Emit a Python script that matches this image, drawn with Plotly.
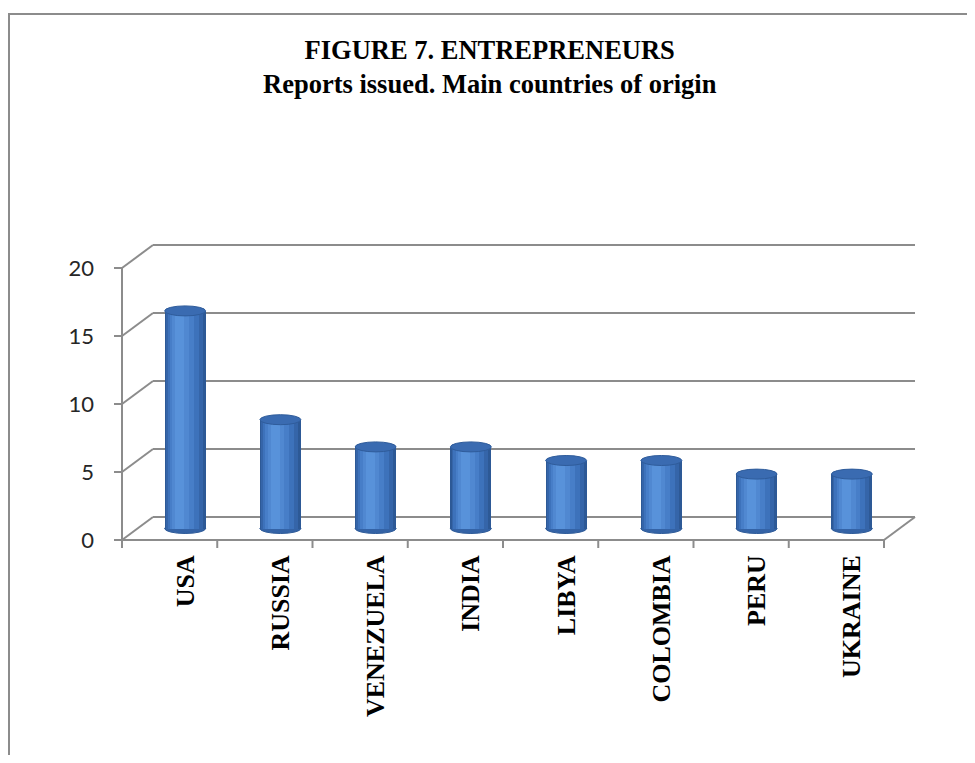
import plotly.graph_objects as go

# ---------------- data ----------------
countries = ["USA", "RUSSIA", "VENEZUELA", "INDIA", "LIBYA", "COLOMBIA", "PERU", "UKRAINE"]
reports = [16, 8, 6, 6, 5, 5, 4, 4]
y_ticks = [0, 5, 10, 15, 20]
title_lines = ["FIGURE 7. ENTREPRENEURS", "Reports issued. Main countries of origin"]

# ---------------- geometry (pixels of the browser window) ----------------
BODY = 8                      # default page margin around the figure
WIN_W, WIN_H = 975, 763
W, H = WIN_W - 2 * BODY, WIN_H - 2 * BODY

FRONT_LEFT, FRONT_RIGHT = 122 - BODY, 884 - BODY
FRONT_BOTTOM, FRONT_TOP = 540 - BODY, 268 - BODY
DEPTH_X, DEPTH_Y = 31, 23
PAD_L, PAD_B, PAD_T, PAD_R = 10, 9, 3, 3
TICK_PX = 8
ELLIPSE_PX = 10

n = len(countries)
ymax = y_ticks[-1]
UX = (FRONT_RIGHT - FRONT_LEFT) / n
UY = (FRONT_BOTTOM - FRONT_TOP) / ymax
DX = DEPTH_X / UX
DY = DEPTH_Y / UY

x_lo = -0.5 - PAD_L / UX
x_hi = n - 0.5 + DX + PAD_R / UX
y_lo = -PAD_B / UY
y_hi = ymax + DY + PAD_T / UY

ml = FRONT_LEFT - PAD_L
mr = W - (FRONT_RIGHT + DEPTH_X + PAD_R)
mt = FRONT_TOP - DEPTH_Y - PAD_T
mb = H - (FRONT_BOTTOM + PAD_B)
pw = W - ml - mr
ph = H - mt - mb


def px_x(px):
    return (px - ml) / pw


def px_y(py):
    return (mt + ph - py) / ph


GRID = "#8c8c8c"
LW = 2

shapes = []
# back wall gridlines, wall diagonals, y tick marks
for v in y_ticks:
    shapes.append(dict(type="line", xref="x", yref="y", x0=-0.5 + DX, y0=v + DY,
                       x1=n - 0.5 + DX, y1=v + DY, line=dict(color=GRID, width=LW), layer="below"))
    shapes.append(dict(type="line", xref="x", yref="y", x0=-0.5, y0=v,
                       x1=-0.5 + DX, y1=v + DY, line=dict(color=GRID, width=LW), layer="below"))
    shapes.append(dict(type="line", xref="x", yref="y", x0=-0.5 - TICK_PX / UX, y0=v,
                       x1=-0.5, y1=v, line=dict(color=GRID, width=LW), layer="below"))
# front y axis line
shapes.append(dict(type="line", xref="x", yref="y", x0=-0.5, y0=0, x1=-0.5, y1=ymax,
                   line=dict(color=GRID, width=LW), layer="below"))
# front x axis line
shapes.append(dict(type="line", xref="x", yref="y", x0=-0.5, y0=0, x1=n - 0.5, y1=0,
                   line=dict(color=GRID, width=LW), layer="below"))
# floor right edge
shapes.append(dict(type="line", xref="x", yref="y", x0=n - 0.5, y0=0, x1=n - 0.5 + DX, y1=DY,
                   line=dict(color=GRID, width=LW), layer="below"))
# x tick marks at category boundaries
for k in range(n + 1):
    shapes.append(dict(type="line", xref="x", yref="y", x0=k - 0.5, y0=0, x1=k - 0.5,
                       y1=-TICK_PX / UY, line=dict(color=GRID, width=LW), layer="below"))

# cylinders
centers = [i + DX / 2 for i in range(n)]
base = DY / 2
BW = 0.43
EH = ELLIPSE_PX / UY

# bottom ellipses (under the bodies)
for c in centers:
    shapes.append(dict(type="circle", xref="x", yref="y", x0=c - BW / 2, x1=c + BW / 2,
                       y0=base - EH / 2, y1=base + EH / 2, fillcolor="#3463a6",
                       line=dict(color="#2d5a98", width=1), layer="below"))

layers = [
    (1.00, 0.00, "#2d5996"),
    (0.90, -0.02, "#3565a9"),
    (0.76, -0.05, "#3d72bb"),
    (0.58, -0.08, "#477ec8"),
    (0.40, -0.11, "#5088d1"),
    (0.22, -0.13, "#5892da"),
]

fig = go.Figure()
for wf, sf, col in layers:
    fig.add_trace(go.Bar(
        x=centers, y=reports, base=base,
        width=BW * wf, offset=BW * (sf - wf / 2),
        marker=dict(color=col, line=dict(width=0)),
        opacity=1, showlegend=False, hoverinfo="skip",
    ))

# top ellipses
for c, v in zip(centers, reports):
    top = base + v
    shapes.append(dict(type="circle", xref="x", yref="y", x0=c - BW / 2, x1=c + BW / 2,
                       y0=top - EH / 2, y1=top + EH / 2, fillcolor="#3a6bb1",
                       line=dict(color="#2f5c9b", width=1), layer="above"))

# outer border of the picture
BORDER_TOP = 14 - BODY
BORDER_LEFT = 1
shapes.append(dict(type="line", xref="paper", yref="paper", x0=px_x(BORDER_LEFT - 1), y0=px_y(BORDER_TOP),
                   x1=px_x(W + 2), y1=px_y(BORDER_TOP), line=dict(color=GRID, width=2), layer="above"))
shapes.append(dict(type="line", xref="paper", yref="paper", x0=px_x(BORDER_LEFT), y0=px_y(BORDER_TOP - 1),
                   x1=px_x(BORDER_LEFT), y1=px_y(H + 2), line=dict(color=GRID, width=2), layer="above"))

# title as an annotation (two centred lines)
annotations = [dict(
    text="<br>".join(title_lines),
    xref="paper", yref="paper",
    x=px_x(490 - BODY), xanchor="center",
    y=px_y(33 - BODY), yanchor="top",
    showarrow=False, align="center",
    font=dict(family="Liberation Serif", size=26.5, color="black", weight="bold"),
)]

fig.update_layout(
    width=W, height=H,
    margin=dict(l=ml, r=mr, t=mt, b=mb, autoexpand=False),
    paper_bgcolor="white", plot_bgcolor="white",
    barmode="overlay", bargap=0,
    shapes=shapes,
    annotations=annotations,
    xaxis=dict(
        range=[x_lo, x_hi], tickmode="array", tickvals=centers, ticktext=countries,
        tickangle=-90, ticks="", showline=False, showgrid=False, zeroline=False,
        ticklabelstandoff=0,
        tickfont=dict(family="Liberation Serif", size=26, color="black", weight="bold"),
    ),
    yaxis=dict(
        range=[y_lo, y_hi], tickmode="array", tickvals=y_ticks,
        ticks="", showline=False, showgrid=False, zeroline=False,
        ticklabelstandoff=17,
        tickfont=dict(family="Lato", size=22, color="#262626"),
    ),
)

fig.write_html("out.html")
